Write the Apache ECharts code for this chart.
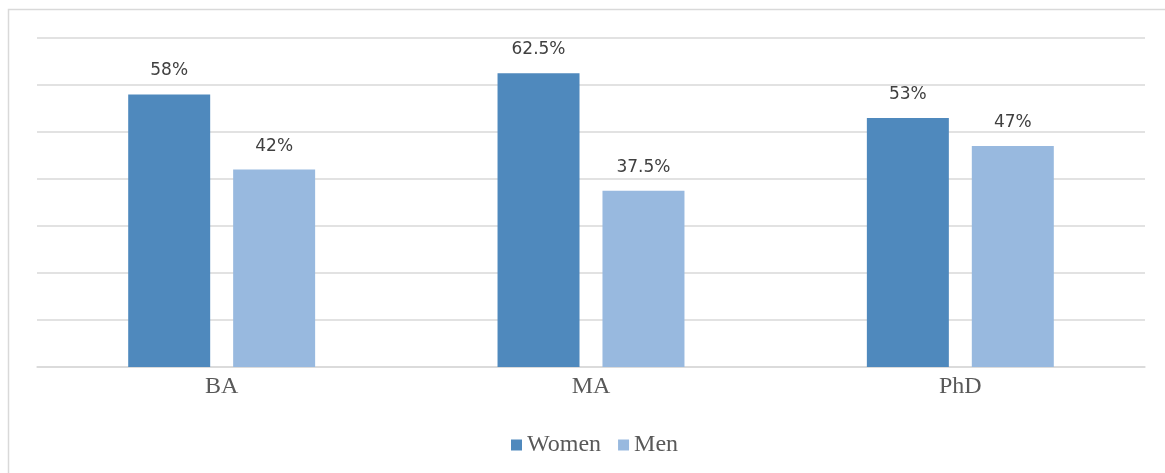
<!DOCTYPE html>
<html>
<head>
<meta charset="utf-8">
<script src="https://cdn.jsdelivr.net/npm/echarts@6/dist/echarts.min.js"></script>
<style>html,body{margin:0;padding:0;background:#fff;}#c{width:1165px;height:473px;}</style>
</head>
<body>
<div id="c"></div>
<script>
const categories = ['BA', 'MA', 'PhD'];
const women = [58, 62.5, 53];
const men = [42, 37.5, 47];
const seriesNames = ['Women', 'Men'];

const chart = echarts.init(document.getElementById('c'), null, {renderer: 'canvas'});
const labelStyle = {
  show: true, position: 'top', distance: 15,
  formatter: p => p.value + '%',
  fontFamily: 'DejaVu Sans', fontSize: 17, color: '#404040'
};
chart.setOption({
  animation: false,
  backgroundColor: '#fff',
  graphic: [{
    type: 'rect', left: 6, top: 7, silent: true,
    shape: {width: 1300, height: 600},
    style: {fill: 'none', stroke: '#D9D9D9', lineWidth: 1.5}
  }],
  grid: {left: 37, right: 20, top: 38, bottom: 106, containLabel: false},
  legend: {
    data: seriesNames, top: 428, left: 506,
    itemWidth: 11, itemHeight: 11, itemGap: 17,
    icon: 'rect',
    textStyle: {fontFamily: 'Liberation Serif', fontSize: 24, color: '#595959', lineHeight: 24}
  },
  xAxis: {
    type: 'category', data: categories,
    axisLine: {show: true, lineStyle: {color: '#D9D9D9', width: 1.5}},
    axisTick: {show: false},
    axisLabel: {fontFamily: 'Liberation Serif', fontSize: 24, color: '#595959', margin: 8}
  },
  yAxis: {
    type: 'value', min: 0, max: 70, interval: 10,
    axisLabel: {show: false}, axisLine: {show: false}, axisTick: {show: false},
    splitLine: {lineStyle: {color: '#D9D9D9', width: 1.5}}
  },
  series: [
    {name: seriesNames[0], type: 'bar', data: women, barWidth: '22.2%', barGap: '28%',
     itemStyle: {color: '#4F89BD'}, label: labelStyle},
    {name: seriesNames[1], type: 'bar', data: men, barWidth: '22.2%',
     itemStyle: {color: '#98B9DF'}, label: labelStyle}
  ]
});
</script>
</body>
</html>
